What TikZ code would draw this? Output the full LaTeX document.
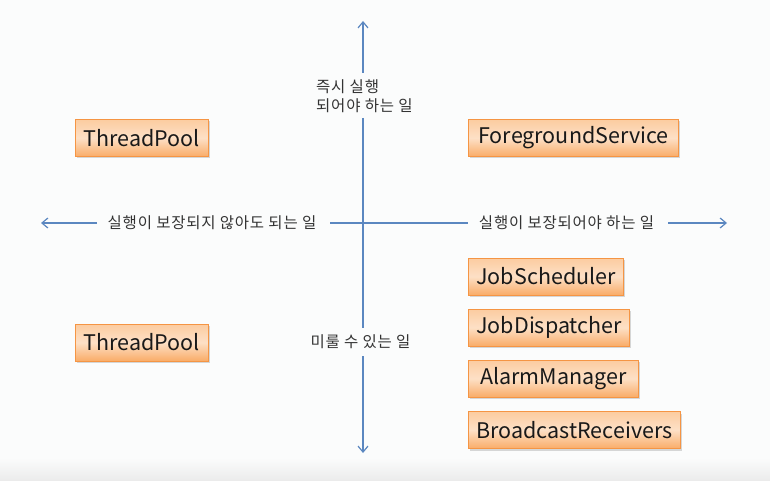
\documentclass[tikz,border=0pt]{standalone}
\usepackage{fontspec}
\setmainfont{Noto Sans CJK KR}
\newfontfamily\krlbl[LetterSpace=5]{Noto Sans CJK KR}
\usetikzlibrary{arrows.meta,shadows}
\definecolor{axisblue}{HTML}{5B87C0}
\definecolor{boxborder}{HTML}{F59544}
\definecolor{boxtop}{HTML}{FCCCA0}
\definecolor{boxmid}{HTML}{FDE0C6}
\definecolor{boxbot}{HTML}{F9AC68}
\definecolor{lbltext}{HTML}{333333}
\definecolor{bg}{HTML}{FBFCFC}
\begin{document}
\begin{tikzpicture}[x=1pt,y=-1pt,
  axis/.style={draw=axisblue,line width=1.2pt,-{Straight Barb[length=6pt,width=10pt,line width=1.2pt]}},
  axisline/.style={draw=axisblue,line width=1.2pt},
  lbl/.style={font=\krlbl\fontsize{15.5}{18.5}\selectfont,text=lbltext,inner sep=0pt},
  apibox/.style={draw=boxborder,line width=0.9pt,top color=boxtop,bottom color=boxbot,middle color=boxmid,
    minimum height=37pt,inner xsep=8pt,inner ysep=0pt,anchor=west,
    font=\fontsize{21.5}{24}\selectfont,text=black!90,
    drop shadow={shadow xshift=1.2pt,shadow yshift=-2pt,opacity=0.25,fill=black!60}}]
\useasboundingbox (0,0) rectangle (770,481);
\fill[bg] (0,0) rectangle (770,481);
\shade[top color=bg,bottom color=black!8] (0,458) rectangle (770,481);

% axis labels
\node[lbl,align=left,anchor=west] (lblT) at (316,96) {즉시 실행\\되어야 하는 일};
\node[lbl] (lblB) at (360.5,342) {미룰 수 있는 일};
\node[lbl] (lblL) at (212,223) {실행이 보장되지 않아도 되는 일};
\node[lbl] (lblR) at (566.5,223) {실행이 보장되어야 하는 일};

% axis end points
\coordinate (vt) at (363,21);
\coordinate (vbot) at (363,453);
\coordinate (hl) at (41,223);
\coordinate (hr) at (727,223);

% vertical axis
\draw[axis] (vt |- 0,73) -- (vt);
\draw[axisline] (vt |- 0,118) -- (vt |- 0,328);
\draw[axis] (vt |- 0,356) -- (vbot);
% horizontal axis
\draw[axis] (97,223) -- (hl);
\draw[axisline] (330,223) -- (468,223);
\draw[axis] (668,223) -- (hr);

% boxes
\node[apibox,minimum width=133pt] (tp1) at (75,138) {ThreadPool};
\node[apibox,minimum width=133pt] (tp2) at (75,342.5) {ThreadPool};
\node[apibox,minimum width=210pt] (fg) at (468,138) {ForegroundService};
\node[apibox,minimum width=154pt] (js) at (468,276.5) {JobScheduler};
\node[apibox,minimum width=161pt] (jd) at (468,327.5) {JobDispatcher};
\node[apibox,minimum width=170pt] (am) at (468,378.5) {AlarmManager};
\node[apibox,minimum width=212pt] (br) at (468,430) {BroadcastReceivers};
\end{tikzpicture}
\end{document}
